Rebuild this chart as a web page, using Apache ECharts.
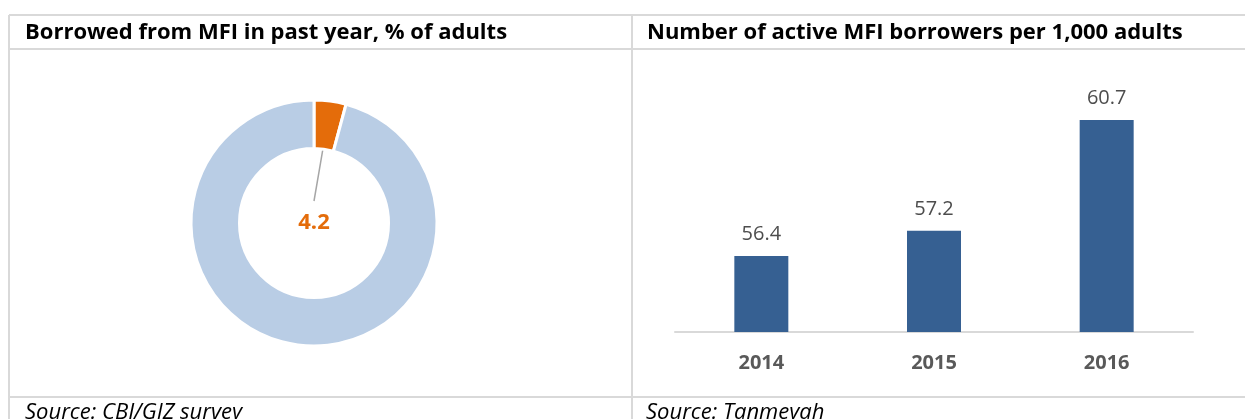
<!DOCTYPE html>
<html>
<head>
<meta charset="utf-8">
<script src="https://cdn.jsdelivr.net/npm/echarts@6/dist/echarts.min.js"></script>
<style>
  html, body { margin: 0; padding: 0; background: #fff; }
  #chart { width: 1245px; height: 419px; }
</style>
</head>
<body>
<div id="chart"></div>
<script>
// Left panel: share of adults who borrowed from an MFI in the past year
const borrowedLabels = ['Borrowed from MFI', 'Did not borrow'];
const borrowedShare = [4.2, 95.8];

// Right panel: active MFI borrowers per 1,000 adults
const years = ['2014', '2015', '2016'];
const borrowersPer1000 = [56.4, 57.2, 60.7];

// Panel titles and sources
const panelTitles = ['Borrowed from MFI in past year, % of adults', 'Number of active MFI borrowers per 1,000 adults'];
const panelSources = ['Source: CBJ/GIZ survey', 'Source: Tanmeyah'];

const W = 1245, H = 419;
const CX = 314, CY = 223, R_IN = 74.5, R_OUT = 123;
const BORDER = '#D9D9D9';

const chart = echarts.init(document.getElementById('chart'), null, { renderer: 'canvas' });

const total = borrowedShare.reduce((a, b) => a + b, 0);

function hLine(x1, x2, y) {
  return { type: 'line', silent: true, shape: { x1: x1, y1: y, x2: x2, y2: y }, style: { stroke: BORDER, lineWidth: 2 } };
}
function vLine(x, y1, y2) {
  return { type: 'line', silent: true, shape: { x1: x, y1: y1, x2: x, y2: y2 }, style: { stroke: BORDER, lineWidth: 2 } };
}

const titleFont = { fontFamily: 'Open Sans', fontWeight: 'bold', fontSize: 22, color: '#000' };
const sourceFont = { fontFamily: 'Open Sans', fontStyle: 'italic', fontSize: 22, color: '#000', fontWeight: 'normal' };

chart.setOption({
  animation: false,
  backgroundColor: '#fff',
  title: [
    { text: panelTitles[0], left: 25, top: 22, textStyle: titleFont, padding: 0 },
    { text: panelTitles[1], left: 647, top: 22, textStyle: titleFont, padding: 0 },
    { text: panelSources[0], left: 25, top: 402, textStyle: sourceFont, padding: 0 },
    { text: panelSources[1], left: 646, top: 402, textStyle: sourceFont, padding: 0 }
  ],
  graphic: [
    hLine(9, W, 15),
    hLine(9, W, 49),
    hLine(9, W, 397),
    vLine(9, 15, H),
    vLine(632, 15, H)
  ],
  grid: { left: 675, right: 52, top: 79, bottom: 87 },
  xAxis: {
    type: 'category',
    data: years,
    axisLine: { lineStyle: { color: BORDER, width: 2 } },
    axisTick: { show: false },
    axisLabel: { margin: 21, fontFamily: 'Open Sans', fontWeight: 'bold', fontSize: 20, color: '#595959' }
  },
  yAxis: { type: 'value', min: 54, max: 62, show: false, splitLine: { show: false } },
  series: [
    {
      type: 'bar',
      data: borrowersPer1000,
      barWidth: 54,
      itemStyle: { color: '#366092' },
      label: {
        show: true, position: 'top', distance: 12,
        fontFamily: 'Open Sans', fontSize: 20, color: '#4D4D4D',
        formatter: p => p.value.toFixed(1)
      }
    },
    {
      type: 'pie',
      center: [CX, CY],
      radius: [R_IN, R_OUT],
      startAngle: 90,
      clockwise: true,
      avoidLabelOverlap: false,
      itemStyle: { borderColor: '#fff', borderWidth: 3 },
      data: borrowedLabels.map((name, i) => ({
        name: name,
        value: borrowedShare[i],
        itemStyle: { color: i === 0 ? '#E46C0A' : '#B9CDE5' },
        label: { show: i === 0 },
        labelLine: { show: i === 0 }
      })),
      label: {
        position: 'outside',
        formatter: p => p.value.toFixed(1),
        fontFamily: 'Open Sans', fontWeight: 'bold', fontSize: 22, color: '#E46C0A'
      },
      labelLine: { lineStyle: { color: '#A6A6A6', width: 1.5 } },
      labelLayout: function (params) {
        if (params.dataIndex !== 0) return {};
        // leader line runs from the middle of the slice down to the value in the hole
        const midDeg = 90 - (borrowedShare[0] / total) * 360 / 2;
        const rad = midDeg * Math.PI / 180;
        const rMid = (R_IN + R_OUT) / 2;
        const sx = CX + rMid * Math.cos(rad);
        const sy = CY - rMid * Math.sin(rad);
        const ey = CY - 22;
        return {
          x: CX, y: CY, align: 'center', verticalAlign: 'middle',
          labelLinePoints: [[sx, sy], [(sx + CX) / 2, (sy + ey) / 2], [CX, ey]]
        };
      }
    }
  ]
});
</script>
</body>
</html>
